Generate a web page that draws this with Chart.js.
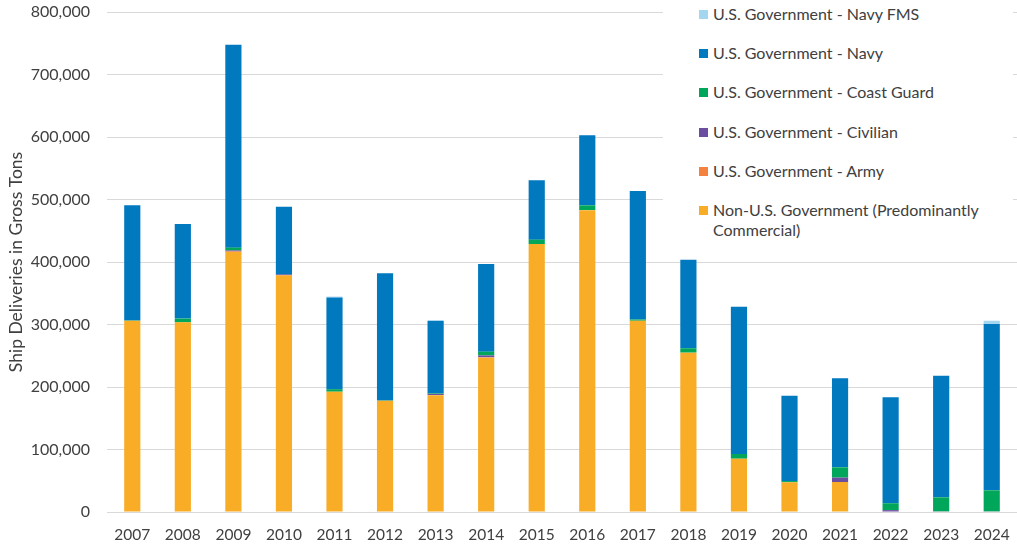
<!DOCTYPE html>
<html>
<head>
<meta charset="utf-8">
<script src="https://cdn.jsdelivr.net/npm/chart.js@4.4.1/dist/chart.umd.min.js"></script>
<style>
  html, body { margin: 0; padding: 0; background: #fff; }
  #wrap { position: relative; width: 1017px; height: 545px; }
  #legend {
    position: absolute; left: 663px; top: 0; width: 350px; height: 245px;
    background: #fff; font-family: Lato, sans-serif; font-size: 16px; color: #404040;
  }
  #legend .item { position: absolute; left: 36px; width: 290px; }
  #legend .box { position: absolute; left: 0; top: 6px; width: 9px; height: 9px; }
  #legend .txt { margin-left: 14px; line-height: 20px; }
</style>
</head>
<body>
<div id="wrap">
  <canvas id="chart" width="1017" height="545"></canvas>
  <div id="legend"></div>
</div>
<script>
// anni e serie (tonnellate di stazza lorda)
const years = ["2007", "2008", "2009", "2010", "2011", "2012", "2013", "2014", "2015",
               "2016", "2017", "2018", "2019", "2020", "2021", "2022", "2023", "2024"];

const nonGov      = [306000, 303500, 416000, 378700, 192500, 178000, 187000, 247000, 428800,
                     483000, 306000, 255000, 85300, 47500, 48000, 0, 0, 0];
const army        = [0, 0, 1000, 0, 0, 0, 0, 500, 0, 0, 0, 0, 0, 0, 0, 0, 0, 0];
const civilian    = [0, 0, 1500, 1500, 0, 0, 2000, 3000, 0, 0, 0, 0, 0, 0, 7000, 3000, 1000, 1000];
const coastGuard  = [500, 6000, 4500, 0, 4000, 500, 1000, 6000, 7000, 7700, 2000, 7000, 7500,
                     2000, 16500, 11000, 22500, 33700];
const navy        = [184500, 151300, 324700, 108300, 146700, 203500, 115600, 140300, 95200,
                     112300, 205600, 141700, 235700, 136500, 142400, 169500, 194500, 266100];
const navyFms     = [0, 0, 0, 0, 1500, 0, 1500, 0, 0, 0, 0, 0, 0, 0, 0, 0, 0, 5200];

const yTicks = [0, 100000, 200000, 300000, 400000, 500000, 600000, 700000, 800000];

const series = [
    { label: "Non-U.S. Government (Predominantly Commercial)", data: nonGov, color: "#F9AC26" },
    { label: "U.S. Government - Army", data: army, color: "#F4813D" },
    { label: "U.S. Government - Civilian", data: civilian, color: "#6B4EA0" },
    { label: "U.S. Government - Coast Guard", data: coastGuard, color: "#00A65A" },
    { label: "U.S. Government - Navy", data: navy, color: "#0079BF" },
    { label: "U.S. Government - Navy FMS", data: navyFms, color: "#A5D6F0" }
];

const FONT = "Lato, sans-serif";
const TXT = "#404040";

// azzera il padding automatico delle etichette, così l'area del grafico è fissa
function noAutoPadding(scale) {
    scale.paddingTop = 0; scale.paddingBottom = 0;
    scale.paddingLeft = 0; scale.paddingRight = 0;
}

function createShipChart() {
    new Chart(document.getElementById("chart"), {
        type: "bar",
        data: {
            labels: years,
            datasets: series.map(s => ({
                label: s.label,
                data: s.data,
                backgroundColor: s.color,
                borderWidth: 0,
                categoryPercentage: 1,
                barPercentage: 0.32
            }))
        },
        options: {
            responsive: false,
            animation: false,
            layout: { padding: { top: 12, right: 0, bottom: 0, left: 0 } },
            plugins: { legend: { display: false }, tooltip: { enabled: false } },
            scales: {
                x: {
                    stacked: true,
                    grid: { display: false },
                    border: { color: "#D9D9D9", width: 1 },
                    ticks: { color: TXT, font: { family: FONT, size: 15.5 }, padding: 6 },
                    afterFit: function (scale) { scale.height = 33; noAutoPadding(scale); }
                },
                y: {
                    stacked: true,
                    min: 0, max: 800000,
                    afterBuildTicks: function (scale) { scale.ticks = yTicks.map(v => ({ value: v })); },
                    grid: { color: "#D9D9D9", drawTicks: false },
                    border: { display: false },
                    ticks: {
                        color: TXT, font: { family: FONT, size: 16 }, padding: 17,
                        callback: v => v.toLocaleString("en-US")
                    },
                    title: {
                        display: true, text: "Ship Deliveries in Gross Tons",
                        color: TXT, font: { family: FONT, size: 17.5 }, padding: { top: 6, bottom: 0 }
                    },
                    afterFit: function (scale) { scale.width = 107; noAutoPadding(scale); }
                }
            }
        }
    });
}

// legenda HTML sovrapposta all'area del grafico (ordine inverso come nell'originale)
function buildLegend() {
    const box = document.getElementById("legend");
    const centers = [14, 53, 92, 131.5, 171, 210];
    series.slice().reverse().forEach(function (s, i) {
        const el = document.createElement("div");
        el.className = "item";
        el.style.top = (centers[i] - 10) + "px";
        el.innerHTML = `<span class="box" style="background:${s.color}"></span><div class="txt">${s.label}</div>`;
        box.appendChild(el);
    });
}

window.addEventListener("load", function () {
    createShipChart();
    buildLegend();
});
</script>
</body>
</html>
